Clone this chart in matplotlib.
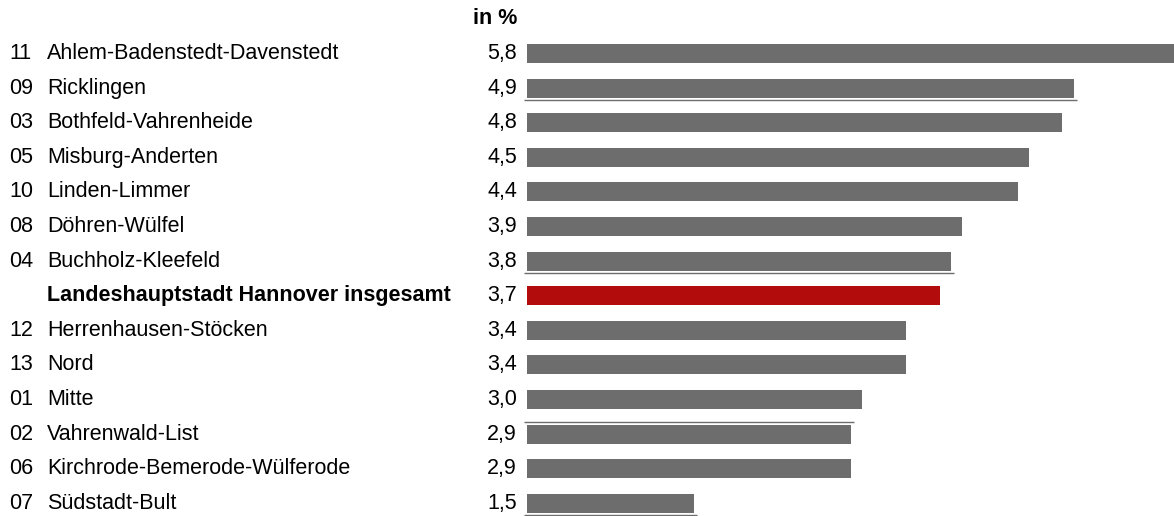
import matplotlib
matplotlib.use('Agg')
import matplotlib.pyplot as plt
import matplotlib.transforms as mtransforms

plt.rcParams['font.family'] = ['Liberation Sans', 'DejaVu Sans']

# Daten
nummern = ['11', '09', '03', '05', '10', '08', '04', '', '12', '13', '01', '02', '06', '07']
bezirke = ['Ahlem-Badenstedt-Davenstedt', 'Ricklingen', 'Bothfeld-Vahrenheide',
           'Misburg-Anderten', 'Linden-Limmer', 'Döhren-Wülfel', 'Buchholz-Kleefeld',
           'Landeshauptstadt Hannover insgesamt', 'Herrenhausen-Stöcken', 'Nord', 'Mitte',
           'Vahrenwald-List', 'Kirchrode-Bemerode-Wülferode', 'Südstadt-Bult']
werte = [5.8, 4.9, 4.8, 4.5, 4.4, 3.9, 3.8, 3.7, 3.4, 3.4, 3.0, 2.9, 2.9, 1.5]
gesamt = 'Landeshauptstadt Hannover insgesamt'

# dünne Linien an einzelnen Balken (Zeile, Lage: +1 unter, -1 über)
linien = [(1, 1), (6, 1), (11, -1), (13, 1)]

W, H = 1174, 516
fig = plt.figure(figsize=(W / 100, H / 100), dpi=100)
x0 = 527 / W
ax = fig.add_axes([x0, 0, 1 - x0, 1])
ax.axis('off')

zeilen = list(range(len(werte)))
farben = ['#b30c0c' if b == gesamt else '#6d6d6d' for b in bezirke]
ax.barh(zeilen, werte, height=0.55, color=farben, left=0)
ax.set_xlim(0, 5.8)

top = 53.5
step = 34.6
ax.set_ylim((H - top) / step, -top / step)

for z, lage in linien:
    ax.hlines(z + 0.35 * lage, -0.027, werte[z] + 0.027, color='#6d6d6d',
              lw=1.0, clip_on=False)

trans = mtransforms.blended_transform_factory(fig.transFigure, ax.transData)
fs = 15.5
for i, (n, b, w) in enumerate(zip(nummern, bezirke, werte)):
    fett = 'bold' if b == gesamt else 'normal'
    if n:
        ax.text(9 / W, i, n, transform=trans, fontsize=fs, va='center', ha='left')
    ax.text(47 / W, i, b, transform=trans, fontsize=fs, va='center', ha='left',
            fontweight=fett)
    ax.text(517 / W, i, f'{w:.1f}'.replace('.', ','), transform=trans,
            fontsize=fs, va='center', ha='right')

ax.text(517 / W, -1, 'in %', transform=trans, fontsize=fs, va='center',
        ha='right', fontweight='bold')

fig.savefig('out.png', dpi=100)
